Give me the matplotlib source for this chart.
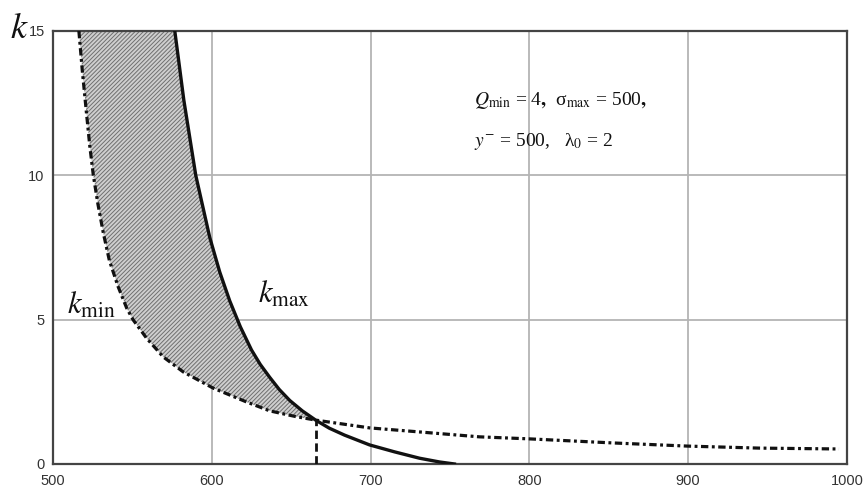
import matplotlib.pyplot as plt

plt.rcParams['mathtext.fontset'] = 'stix'
plt.rcParams['font.family'] = ['Liberation Serif', 'DejaVu Serif']
plt.rcParams['hatch.linewidth'] = 0.7

# upper curve k_max (solid)
kmax_x = [576.7, 582.4, 589.9, 598.7, 605.0, 611.3, 618.0, 625.0, 630.5, 636.5,
          642.5, 649.1, 657.0, 665.4, 674.0, 683.6, 699.4, 715.1, 730.8, 743.4, 752.8]
kmax_k = [15.0, 12.6, 10.0, 7.85, 6.65, 5.65, 4.75, 3.95, 3.45, 3.0,
          2.58, 2.2, 1.84, 1.52, 1.24, 1.0, 0.66, 0.42, 0.2, 0.07, 0.0]

# lower curve k_min (dash-dot)
kmin_x = [516.3, 518.5, 521.0, 523.2, 525.4, 528.3, 531.7, 535.5, 541.1, 546.4,
          550.5, 558.9, 569.4, 582.0, 600.8, 621.8, 636.5, 652.2, 665.4,
          699.4, 730.8, 768.6, 800.0, 852.2, 899.4, 944.7, 995.0]
kmin_k = [15.0, 13.6, 12.2, 11.0, 10.0, 9.0, 8.0, 7.05, 6.13, 5.40,
          4.99, 4.36, 3.71, 3.19, 2.63, 2.15, 1.84, 1.65, 1.52,
          1.25, 1.11, 0.94, 0.87, 0.73, 0.62, 0.55, 0.52]

cross_x = 665.4
cross_k = 1.52

xticks = [500, 600, 700, 800, 900, 1000]
yticks = [0, 5, 10, 15]

fig = plt.figure(figsize=(8.66, 4.86), dpi=100)
ax = fig.add_axes([0.0612, 0.0453, 0.9168, 0.891])

# shaded band between the two curves above their crossing
i_min = kmin_x.index(cross_x) + 1
i_max = kmax_x.index(cross_x) + 1
poly_x = kmin_x[:i_min] + kmax_x[:i_max][::-1]
poly_k = kmin_k[:i_min] + kmax_k[:i_max][::-1]
ax.fill(poly_x, poly_k, facecolor='#cfcfcf', edgecolor='#6f6f6f',
        hatch='////////', linewidth=0, zorder=2)

ax.plot(kmax_x, kmax_k, color='#111111', lw=2.4, zorder=4)
ax.plot(kmin_x, kmin_k, color='#111111', lw=2.3, zorder=4,
        linestyle=(0, (2.3, 1.1, 0.9, 1.1)), dash_capstyle='butt')
ax.plot([cross_x, cross_x], [0, cross_k], color='#111111', lw=2.0,
        linestyle=(0, (3, 1.6)), zorder=4)

ax.set_xlim(500, 1000)
ax.set_ylim(0, 15)
ax.set_xticks(xticks)
ax.set_yticks(yticks)
ax.grid(True, color='#b4b4b4', lw=1.3, zorder=0)
ax.set_axisbelow(True)
ax.tick_params(length=0, labelsize=10.5, colors='#333333')
ax.tick_params(axis='x', pad=7)
ax.tick_params(axis='y', pad=6)
for lab in ax.get_xticklabels() + ax.get_yticklabels():
    lab.set_family('Liberation Sans')
for s in ax.spines.values():
    s.set_color('#444444')
    s.set_linewidth(1.6)

ax.text(509, 5.2, r'$k_{\mathrm{min}}$', fontsize=22, color='#111111')
ax.text(629, 5.6, r'$k_{\mathrm{max}}$', fontsize=22, color='#111111')
ax.text(765, 12.43, r'$Q_{\mathrm{min}}$ = 4$\mathbf{,}$  σ$_{\mathrm{max}}$ = 500$\mathbf{,}$',
        fontsize=14, color='#111111')
ax.text(765, 11.02, r'$y^{-}$ = 500,   λ$_{0}$ = 2', fontsize=14, color='#111111')

fig.text(0.011, 0.922, r'$k$', fontsize=26, color='#111111')

fig.savefig('out.png', dpi=100, facecolor='white')
